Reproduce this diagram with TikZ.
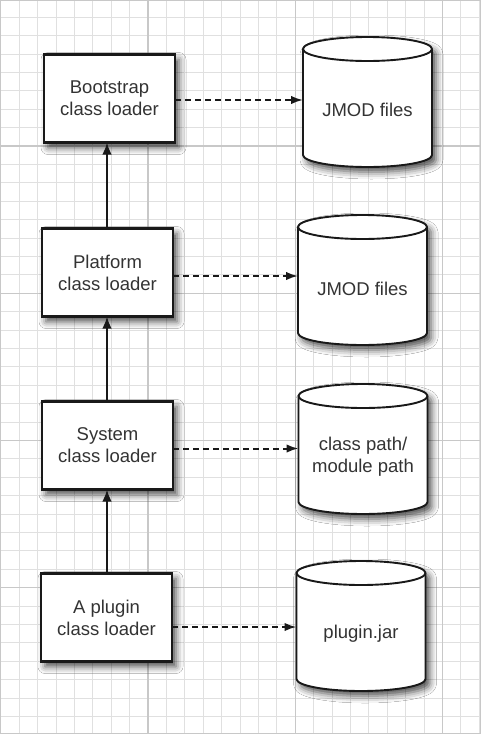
\documentclass[tikz,border=0pt]{standalone}
\usepackage{fontspec}
\setmainfont{Liberation Sans}
\usetikzlibrary{arrows.meta,shadows.blur}
\definecolor{txt}{HTML}{333333}
\definecolor{minorc}{HTML}{E0E0E0}
\definecolor{majorc}{HTML}{C8C8C8}
\tikzset{
  minorline/.style={draw=minorc, line width=1pt},
  majorline/.style={draw=majorc, line width=1.1pt},
  loader/.style={draw=black!90, line width=2.2pt, fill=white, minimum width=131pt,
    minimum height=88pt, align=center, text=txt, outer sep=0pt,
    font=\fontsize{18.5}{22}\selectfont,
    blur shadow={shadow xshift=4pt, shadow yshift=-5pt, shadow blur radius=7pt, shadow opacity=70}},
  cylbody/.style={draw=black!90, line width=1.9pt, fill=white,
    blur shadow={shadow xshift=4pt, shadow yshift=-5pt, shadow blur radius=7pt, shadow opacity=70}},
  cylrim/.style={draw=black!90, line width=1.9pt},
  cyltext/.style={minimum width=129pt, inner sep=0pt, outer sep=0pt, align=center, text=txt,
    font=\fontsize{18.5}{22}\selectfont},
  uparrow/.style={draw=black!90, line width=2pt, -{Latex[length=12pt,width=9.5pt]}},
  dasharrow/.style={draw=black!90, line width=2pt, dash pattern=on 6pt off 4pt,
    -{Latex[length=12pt,width=8.5pt]}}
}
\newcommand\drawcyl[2]{%
  \path[cylbody] ({#1-64.5},{#2+12}) -- ({#1-64.5},{#2+118})
    arc[start angle=180, end angle=360, x radius=64.5pt, y radius=12pt]
    -- ({#1+64.5},{#2+12})
    arc[start angle=0, end angle=180, x radius=64.5pt, y radius=12pt] -- cycle;
  \draw[cylrim] ({#1-64.5},{#2+12})
    arc[start angle=180, end angle=360, x radius=64.5pt, y radius=12pt];}
\begin{document}
\begin{tikzpicture}[x=1pt,y=-1pt]
\useasboundingbox (0,0) rectangle (481,734);
\fill[white] (0,0) rectangle (481,734);
% grid
\foreach \i in {0,...,26} {\draw[minorline] ({0.8+18.4*\i},0) -- ({0.8+18.4*\i},734);}
\foreach \j in {0,...,40} {\draw[minorline] (0,{-1.2+18.4*\j}) -- (481,{-1.2+18.4*\j});}
\foreach \i in {1,2,3} {\draw[majorline] ({0.8+147.2*\i},0) -- ({0.8+147.2*\i},734);}
\foreach \j in {1,2,3,4} {\draw[majorline] (0,{-1.2+147.2*\j}) -- (481,{-1.2+147.2*\j});}
\draw[majorline] (0.6,0.6) rectangle (480.4,733.4);
% cylinders
\drawcyl{367.5}{37}
\drawcyl{362.5}{215}
\drawcyl{363}{384}
\drawcyl{361}{561}
\node[cyltext] (c1) at (367.5,110) {JMOD files};
\node[cyltext] (c2) at (362.5,289) {JMOD files};
\node[cyltext] (c3) at (363,457) {class path/\\module path};
\node[cyltext] (c4) at (361,634) {plugin.jar};
% loaders
\node[loader] (b1) at (109.5,98.5) {Bootstrap\\class loader};
\node[loader] (b2) at (107.5,272.5) {Platform\\class loader};
\node[loader] (b3) at (107.5,445.5) {System\\class loader};
\node[loader] (b4) at (106.5,617.5) {A plugin\\class loader};
% parent arrows
\draw[uparrow] (b2.north -| 107,0) -- (b1.south -| 107,0);
\draw[uparrow] (b3.north -| 107,0) -- (b2.south -| 107,0);
\draw[uparrow] (b4.north -| 107,0) -- (b3.south -| 107,0);
% load arrows
\draw[dasharrow] ([yshift=-1.5pt]b1.east) -- ([yshift=-1.5pt]b1.east -| c1.west);
\draw[dasharrow] ([yshift=-3.5pt]b2.east) -- ([yshift=-3.5pt]b2.east -| c2.west);
\draw[dasharrow] ([yshift=-3pt]b3.east) -- ([yshift=-3pt]b3.east -| c3.west);
\draw[dasharrow] ([yshift=-9.5pt]b4.east) -- ([yshift=-9.5pt]b4.east -| c4.west);
\end{tikzpicture}
\end{document}
